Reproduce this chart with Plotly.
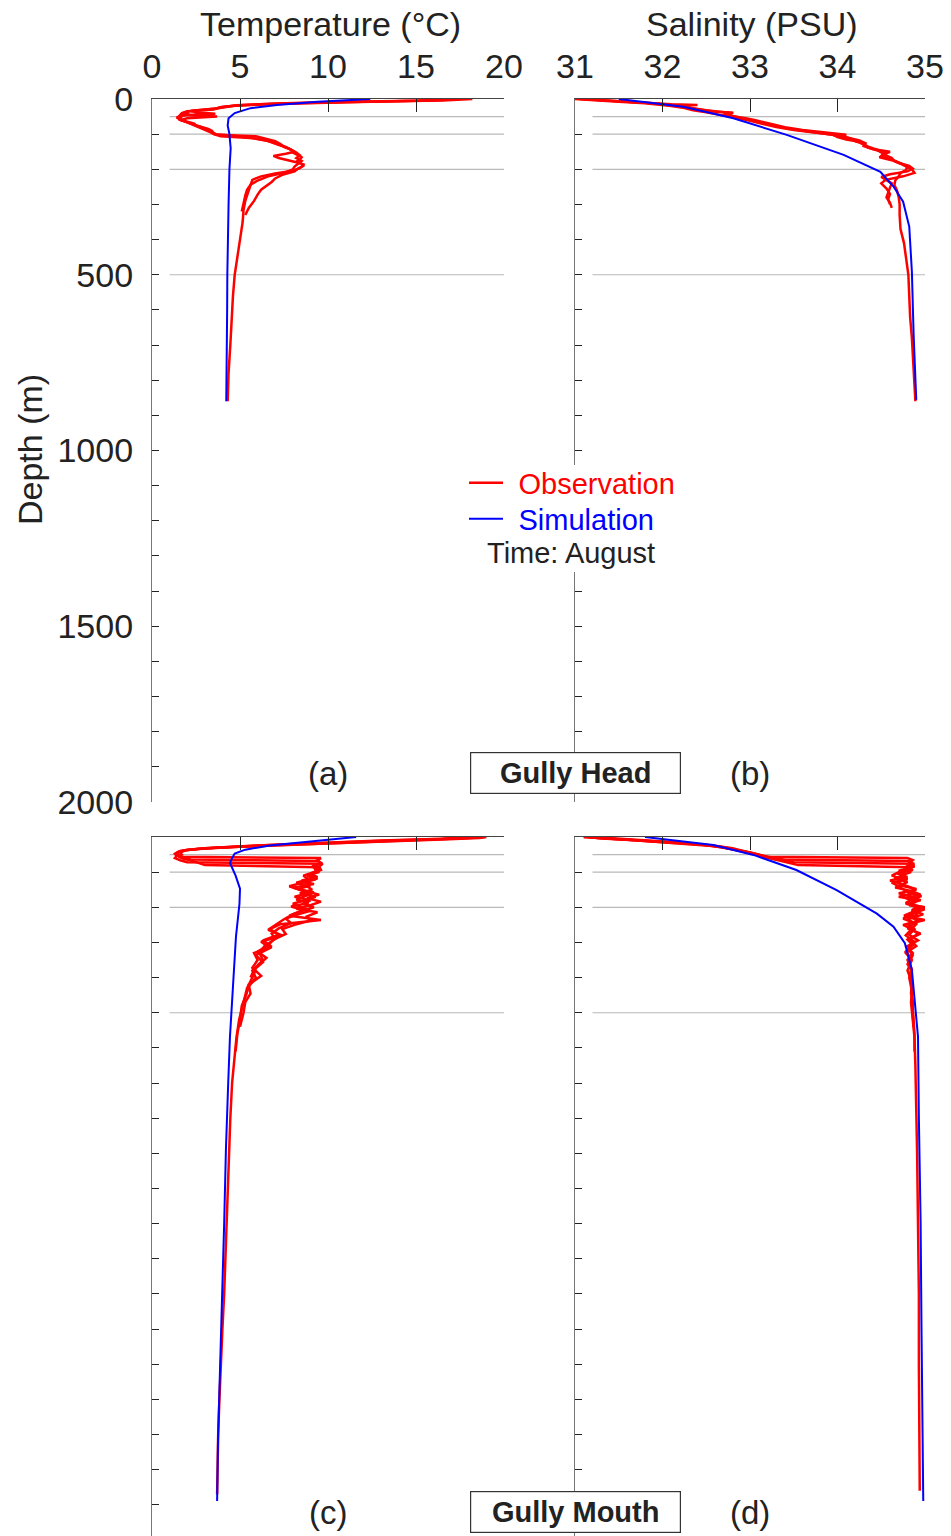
import plotly.graph_objects as go

# ---------------- data: Gully Head (August) ----------------
# temperature casts (depth m, deg C)
head_temp_obs1_depth = [0, 4, 8, 12, 17, 22, 26, 30, 34, 38, 42, 46, 50, 54, 58, 62, 66, 70, 75, 80, 85, 90, 96, 102,
                        106, 112, 120, 128, 136, 144, 152, 160, 166, 172, 178, 184, 190, 197, 204, 212, 220, 230, 245,
                        260, 290, 316, 350, 400, 450, 500, 560, 620, 700, 780, 860]
head_temp_obs1 = [18.2, 16.5, 12.0, 8.0, 5.2, 4.0, 3.7, 3.0, 2.2, 2.5, 3.6, 1.6, 1.5, 1.7, 1.5, 1.8, 2.1, 2.4, 2.5,
                  2.9, 3.2, 3.4, 3.5, 3.7, 5.9, 6.4, 7.0, 7.3, 7.5, 7.9, 8.0, 8.3, 8.5, 8.4, 8.2, 8.5, 8.6, 8.4, 8.0,
                  7.0, 6.2, 5.7, 5.6, 5.5, 5.3, 5.2, 5.15, 5.0, 4.85, 4.7, 4.6, 4.55, 4.45, 4.35, 4.3]
head_temp_obs2_depth = [0, 5, 10, 15, 20, 25, 30, 35, 40, 45, 50, 55, 60, 66, 72, 78, 84, 90, 96, 100, 104, 110, 118,
                        126, 134, 142, 150, 156, 162, 168, 174, 180, 186, 192, 198, 206, 216, 226, 236, 246, 258, 272,
                        290, 310, 330]
head_temp_obs2 = [16.9, 15.0, 10.5, 6.5, 4.5, 3.8, 3.5, 2.0, 1.7, 1.6, 3.7, 2.0, 1.6, 2.0, 2.4, 2.7, 3.0, 3.3, 3.4,
                  3.6, 4.5, 5.6, 6.5, 7.0, 7.4, 7.8, 8.1, 7.6, 6.9, 7.2, 7.8, 8.2, 8.6, 8.5, 8.3, 8.1, 7.4, 7.0, 6.8,
                  6.5, 6.2, 6.0, 5.8, 5.5, 5.3]
head_temp_obs3_depth = [0, 4, 8, 13, 18, 23, 28, 33, 38, 43, 48, 53, 58, 64, 70, 76, 82, 88, 94, 100, 106, 112, 120,
                        128, 136, 144, 152, 160, 168, 176, 184, 192, 200, 210, 220, 232, 244, 258, 275, 295, 320]
head_temp_obs3 = [17.5, 16.0, 11.0, 7.0, 4.8, 4.3, 3.6, 2.4, 1.8, 2.1, 1.7, 1.4, 1.6, 1.9, 2.2, 2.5, 2.8, 3.1, 3.3,
                  3.5, 3.9, 5.8, 6.7, 7.1, 7.6, 7.9, 8.2, 8.4, 8.2, 8.5, 8.3, 8.1, 8.0, 7.5, 6.6, 6.0, 5.6, 5.4, 5.3,
                  5.2, 5.1]
head_temp_sim_depth = [0, 8, 17, 26, 40, 55, 75, 100, 140, 200, 300, 400, 500, 600, 700, 800, 860]
head_temp_sim = [12.4, 9.4, 7.1, 5.6, 4.7, 4.35, 4.3, 4.4, 4.47, 4.4, 4.35, 4.3, 4.28, 4.27, 4.26, 4.24, 4.22]

# salinity casts (depth m, PSU)
head_salt_obs1_depth = [0, 4, 8, 12, 16, 20, 26, 32, 38, 44, 50, 56, 62, 68, 74, 80, 88, 95, 102, 108, 115, 122, 130,
                        138, 146, 154, 162, 170, 178, 186, 194, 202, 210, 220, 232, 245, 260, 280, 300, 330, 370, 410,
                        450, 500, 560, 620, 680, 760, 860]
head_salt_obs1 = [31.0, 31.2, 31.5, 31.8, 32.0, 32.1, 32.25, 32.35, 32.5, 32.65, 32.8, 32.9, 33.0, 33.1, 33.2, 33.3,
                  33.5, 33.7, 33.95, 34.0, 34.1, 34.25, 34.3, 34.35, 34.45, 34.55, 34.5, 34.6, 34.68, 34.75, 34.8,
                  34.78, 34.72, 34.7, 34.66, 34.65, 34.68, 34.7, 34.71, 34.71, 34.72, 34.76, 34.78, 34.81, 34.82,
                  34.83, 34.85, 34.87, 34.89]
head_salt_obs2_depth = [0, 5, 10, 15, 17, 20, 25, 30, 35, 40, 45, 50, 55, 60, 66, 72, 80, 88, 96, 102, 106, 112, 118,
                        126, 134, 142, 150, 158, 166, 174, 182, 190, 198, 206, 214, 222, 230, 240, 252, 265, 280, 295,
                        310]
head_salt_obs2 = [31.05, 31.4, 31.8, 32.1, 32.4, 32.15, 32.3, 32.4, 32.6, 32.8, 32.7, 32.85, 32.95, 33.05, 33.15,
                  33.25, 33.4, 33.6, 33.85, 34.1, 34.05, 34.15, 34.25, 34.32, 34.3, 34.4, 34.6, 34.52, 34.48, 34.62,
                  34.7, 34.82, 34.86, 34.8, 34.6, 34.5, 34.55, 34.62, 34.6, 34.58, 34.56, 34.6, 34.62]
head_salt_obs3_depth = [0, 4, 8, 12, 18, 24, 30, 36, 39, 42, 48, 54, 60, 66, 72, 80, 88, 96, 104, 112, 120, 128, 136,
                        144, 152, 160, 168, 176, 184, 192, 200, 210, 220, 230, 240, 255, 270, 285, 300]
head_salt_obs3 = [31.1, 31.3, 31.6, 31.9, 32.15, 32.3, 32.45, 32.6, 32.81, 32.7, 32.8, 32.9, 33.0, 33.1, 33.2, 33.35,
                  33.55, 33.8, 34.0, 34.15, 34.2, 34.3, 34.35, 34.45, 34.5, 34.55, 34.62, 34.65, 34.72, 34.78, 34.85,
                  34.88, 34.75, 34.55, 34.5, 34.56, 34.6, 34.58, 34.6]
head_salt_sim_depth = [0, 22, 55, 102, 159, 207, 249, 292, 363, 491, 670, 856]
head_salt_sim = [31.5, 32.24, 32.81, 33.42, 34.07, 34.49, 34.64, 34.75, 34.82, 34.85, 34.87, 34.9]

# ---------------- data: Gully Mouth (August) ----------------
mouth_temp_obs1_depth = [0, 3, 8, 14, 20, 28, 34, 40, 46, 52, 58, 64, 68, 74, 82, 90, 100, 110, 120, 130, 140, 150,
                         160, 170, 180, 190, 200, 210, 220, 232, 245, 260, 275, 290, 310, 330, 350, 370, 390, 410, 430,
                         470, 520, 570, 650, 700, 800, 900, 1000, 1100, 1200, 1300, 1400, 1500, 1600, 1700, 1800, 1870]
mouth_temp_obs1 = [18.9, 18.0, 15.5, 12.0, 8.5, 5.0, 2.5, 1.6, 1.4, 1.5, 1.7, 2.2, 9.4, 9.6, 9.3, 9.5, 9.2, 8.6, 8.9,
                   8.2, 8.8, 9.1, 8.4, 9.3, 8.7, 8.0, 8.5, 9.0, 8.3, 7.6, 7.9, 7.2, 6.8, 7.0, 6.4, 6.1, 6.3, 5.9, 5.8,
                   5.6, 5.4, 5.2, 4.95, 4.8, 4.65, 4.55, 4.45, 4.38, 4.33, 4.27, 4.2, 4.1, 4.0, 3.9, 3.83, 3.76, 3.72,
                   3.7]
mouth_temp_obs2_depth = [0, 4, 9, 15, 22, 30, 36, 42, 48, 54, 60, 66, 72, 76, 84, 94, 104, 114, 124, 134, 144, 154,
                         164, 174, 184, 194, 204, 214, 226, 238, 250, 262, 276, 292, 308, 326, 344, 362, 380, 400, 425,
                         450, 480, 520, 560, 610]
mouth_temp_obs2 = [18.5, 17.2, 14.0, 10.5, 7.0, 3.8, 2.0, 1.5, 1.3, 1.4, 1.3, 1.6, 2.0, 9.7, 9.5, 9.6, 9.0, 9.4, 8.5,
                   9.2, 8.0, 8.7, 9.5, 8.8, 9.6, 9.0, 8.2, 9.4, 8.8, 9.0, 8.1, 7.4, 7.6, 6.9, 6.6, 6.0, 6.5, 6.1, 5.7,
                   5.9, 5.5, 5.35, 5.1, 5.0, 4.85, 4.75]
mouth_temp_obs3_depth = [0, 5, 10, 16, 24, 32, 38, 44, 50, 56, 62, 68, 74, 80, 86, 92, 100, 110, 120, 130, 140, 150,
                         160, 170, 180, 190, 200, 212, 224, 236, 248, 262, 278, 294, 312, 330, 350, 372, 395, 420, 445,
                         470, 500, 540]
mouth_temp_obs3 = [17.8, 16.5, 13.0, 9.5, 6.0, 3.0, 1.9, 1.6, 1.7, 1.5, 1.8, 2.3, 2.6, 3.0, 9.5, 9.3, 9.5, 8.8, 9.3,
                   8.6, 7.8, 8.4, 8.9, 8.1, 9.0, 8.6, 9.2, 8.4, 7.8, 9.6, 7.3, 6.7, 7.2, 6.3, 6.8, 5.8, 6.0, 5.7, 6.2,
                   5.5, 5.6, 5.3, 5.2, 5.0]
mouth_temp_obs4_depth = [0, 3, 7, 12, 18, 25, 32, 38, 44, 50, 56, 60, 66, 74, 84, 96, 108, 118, 128, 138, 148, 158,
                         168, 178, 188, 198, 208, 220, 234, 248, 264, 280, 298, 316, 336, 356, 378, 400]
mouth_temp_obs4 = [19.0, 18.6, 16.5, 13.5, 10.0, 6.2, 3.0, 1.8, 1.5, 1.4, 1.6, 9.6, 9.4, 9.6, 9.1, 9.5, 8.9, 9.4, 8.6,
                   9.0, 8.3, 9.2, 8.7, 8.2, 8.9, 7.9, 8.6, 8.0, 7.5, 7.1, 6.6, 7.4, 6.2, 6.7, 5.9, 6.3, 5.8, 5.6]
mouth_temp_sim_depth = [0, 12, 24, 36, 47, 60, 74, 110, 147, 190, 284, 426, 568, 700, 890, 1100, 1317, 1500, 1716,
                        1889]
mouth_temp_sim = [11.6, 9.0, 6.7, 5.3, 4.7, 4.55, 4.43, 4.75, 5.0, 4.97, 4.77, 4.6, 4.43, 4.33, 4.2, 4.1, 3.98, 3.88,
                  3.75, 3.7]

mouth_salt_obs1_depth = [0, 4, 8, 14, 20, 27, 34, 40, 46, 52, 58, 64, 68, 74, 82, 90, 100, 110, 120, 130, 140, 150,
                         160, 170, 180, 190, 200, 210, 220, 232, 245, 260, 275, 290, 310, 330, 350, 380, 420, 470, 520,
                         570, 650, 750, 900, 1100, 1300, 1500, 1700, 1860]
mouth_salt_obs1 = [31.15, 31.3, 31.6, 31.95, 32.3, 32.65, 32.8, 32.9, 33.0, 33.1, 33.2, 33.3, 34.82, 34.85, 34.8,
                   34.84, 34.7, 34.62, 34.75, 34.68, 34.8, 34.9, 34.7, 34.85, 34.95, 34.78, 35.0, 34.85, 34.92, 34.75,
                   34.88, 34.8, 34.95, 34.82, 34.9, 34.78, 34.85, 34.8, 34.86, 34.84, 34.86, 34.88, 34.89, 34.9,
                   34.91, 34.92, 34.93, 34.93, 34.94, 34.94]
mouth_salt_obs2_depth = [0, 5, 10, 16, 22, 30, 36, 42, 48, 54, 60, 66, 72, 76, 84, 94, 104, 114, 124, 134, 144, 154,
                         164, 174, 184, 194, 204, 214, 226, 238, 250, 262, 276, 292, 308, 326, 344, 362, 380, 400, 425,
                         450, 480, 520, 560, 610]
mouth_salt_obs2 = [31.1, 31.4, 31.75, 32.1, 32.45, 32.7, 32.85, 32.95, 33.05, 33.15, 33.3, 33.4, 33.5, 34.88, 34.8,
                   34.86, 34.68, 34.8, 34.6, 34.75, 34.66, 34.85, 34.95, 34.78, 34.9, 34.82, 35.02, 34.9, 34.8, 34.93,
                   34.75, 34.85, 34.92, 34.8, 34.86, 34.78, 34.84, 34.8, 34.85, 34.82, 34.84, 34.85, 34.86, 34.87,
                   34.88, 34.88]
mouth_salt_obs3_depth = [0, 5, 10, 16, 24, 32, 38, 44, 50, 56, 62, 68, 74, 80, 86, 92, 100, 110, 120, 130, 140, 150,
                         160, 170, 180, 190, 200, 212, 224, 236, 248, 262, 278, 294, 312, 330, 350, 372, 395, 420, 445,
                         470, 500, 540]
mouth_salt_obs3 = [31.2, 31.5, 31.8, 32.2, 32.55, 32.75, 32.9, 33.0, 33.1, 33.15, 33.25, 33.35, 33.45, 33.55, 34.85,
                   34.78, 34.84, 34.72, 34.8, 34.62, 34.7, 34.76, 34.88, 34.7, 34.92, 34.8, 34.98, 34.86, 34.76, 35.0,
                   34.8, 34.88, 34.82, 34.92, 34.79, 34.86, 34.8, 34.84, 34.83, 34.85, 34.84, 34.86, 34.86, 34.87]
mouth_salt_obs4_depth = [0, 3, 7, 12, 18, 25, 32, 38, 44, 50, 56, 60, 66, 74, 84, 96, 108, 118, 128, 138, 148, 158,
                         168, 178, 188, 198, 208, 220, 234, 248, 264, 280, 298, 316, 336, 356, 378, 400]
mouth_salt_obs4 = [31.1, 31.25, 31.55, 31.9, 32.3, 32.6, 32.8, 32.9, 33.0, 33.1, 33.2, 34.8, 34.86, 34.82, 34.88,
                   34.7, 34.78, 34.65, 34.8, 34.72, 34.9, 34.8, 34.96, 34.84, 34.78, 34.92, 34.85, 34.98, 34.8, 34.9,
                   34.84, 34.78, 34.88, 34.8, 34.86, 34.82, 34.85, 34.84]
mouth_salt_sim_depth = [0, 23, 51, 94, 151, 218, 255, 302, 378, 483, 568, 800, 1100, 1400, 1700, 1889]
mouth_salt_sim = [31.8, 32.58, 33.04, 33.53, 33.99, 34.45, 34.64, 34.77, 34.85, 34.89, 34.92, 34.93, 34.95, 34.96,
                  34.97, 34.98]

# axis ticks / labels
temp_ticks = [0, 5, 10, 15, 20]
salt_ticks = [31, 32, 33, 34, 35]
grid_depths = [50, 100, 200, 500]
panel_labels = ["(a)", "(b)", "(c)", "(d)"]
site_names = ["Gully Head", "Gully Mouth"]
column_titles = ["Temperature (°C)", "Salinity (PSU)"]

# ---------------- layout geometry (pixels) ----------------
W, H = 951, 1536
FONT = "Liberation Sans"
TXT = "#222222"
RED, BLUE = "#ff0000", "#0000ff"


def px_x(p):
    return p / W


def px_y(p):
    return 1 - p / H


col_px = [(152, 504), (575, 925)]
row_px = [(99, 802), (837, 1536)]
m_per_px = 2000 / (802 - 99)

fig = go.Figure()

panels = [
    # (row, col, observed casts, simulated profile)
    (0, 0, [(head_temp_obs1_depth, head_temp_obs1), (head_temp_obs2_depth, head_temp_obs2),
            (head_temp_obs3_depth, head_temp_obs3)], (head_temp_sim_depth, head_temp_sim)),
    (0, 1, [(head_salt_obs1_depth, head_salt_obs1), (head_salt_obs2_depth, head_salt_obs2),
            (head_salt_obs3_depth, head_salt_obs3)], (head_salt_sim_depth, head_salt_sim)),
    (1, 0, [(mouth_temp_obs1_depth, mouth_temp_obs1), (mouth_temp_obs2_depth, mouth_temp_obs2),
            (mouth_temp_obs3_depth, mouth_temp_obs3), (mouth_temp_obs4_depth, mouth_temp_obs4)],
     (mouth_temp_sim_depth, mouth_temp_sim)),
    (1, 1, [(mouth_salt_obs1_depth, mouth_salt_obs1), (mouth_salt_obs2_depth, mouth_salt_obs2),
            (mouth_salt_obs3_depth, mouth_salt_obs3), (mouth_salt_obs4_depth, mouth_salt_obs4)],
     (mouth_salt_sim_depth, mouth_salt_sim)),
]

GAP = "\u00a0\u200a"  # small gap between legend line and label

shapes = []
first_obs = True
for idx, (r, c, casts, sim) in enumerate(panels):
    n = idx + 1
    xa = "x" if n == 1 else f"x{n}"
    ya = "y" if n == 1 else f"y{n}"
    for dep, val in casts:
        fig.add_trace(go.Scatter(x=val, y=dep, mode="lines", xaxis=xa, yaxis=ya,
                                 line=dict(color=RED, width=2.5),
                                 name=GAP + '<span style="color:#ff0000">Observation</span>',
                                 legendgroup="obs", showlegend=first_obs, legend="legend"))
        first_obs = False
    fig.add_trace(go.Scatter(x=sim[1], y=sim[0], mode="lines", xaxis=xa, yaxis=ya,
                             line=dict(color=BLUE, width=2),
                             name=GAP + '<span style="color:#0000ff">Simulation</span>',
                             legendgroup="sim", showlegend=(n == 1), legend="legend2"))

    x0, x1 = col_px[c]
    y0, y1 = row_px[r]
    depth_max = (y1 - y0) * m_per_px
    is_temp = c == 0
    xaxis = dict(
        domain=[px_x(x0), px_x(x1)], anchor=ya, side="top", automargin=False,
        range=[0, 20] if is_temp else [31, 35],
        tickmode="array", tickvals=temp_ticks if is_temp else salt_ticks,
        showticklabels=(r == 0), ticks="inside", ticklen=13, tickwidth=1.2, tickcolor=TXT,
        showline=True, linecolor="#444444", linewidth=1.2,
        showgrid=False, zeroline=False,
        tickfont=dict(family=FONT, size=34, color=TXT), ticklabelstandoff=6,
    )
    yaxis = dict(
        domain=[px_y(y1), px_y(y0)], anchor=xa, automargin=False,
        range=[depth_max, 0], tick0=0, dtick=500, tickmode="linear",
        showticklabels=(n == 1), ticks="inside", ticklen=7, tickwidth=1.2, tickcolor=TXT,
        minor=dict(ticks="inside", dtick=100, ticklen=7, tickwidth=1.2, tickcolor=TXT),
        showline=True, linecolor="#777777", linewidth=1.2,
        showgrid=False, zeroline=False,
        tickfont=dict(family=FONT, size=34, color=TXT), ticklabelstandoff=11,
    )
    fig.layout["xaxis" if n == 1 else f"xaxis{n}"] = xaxis
    fig.layout["yaxis" if n == 1 else f"yaxis{n}"] = yaxis

    # reference depth lines
    for d in grid_depths:
        shapes.append(dict(type="line", xref=f"{xa} domain", yref=ya, x0=0.05, x1=1, y0=d, y1=d,
                           line=dict(color="#b9b9b9", width=1.2), layer="below"))

# white backing behind the legend block (masks the salinity axis there)
shapes.append(dict(type="rect", xref="paper", yref="paper",
                   x0=px_x(462), x1=px_x(684), y0=px_y(572), y1=px_y(465),
                   fillcolor="white", line=dict(width=0), layer="above"))

annotations = []
for c in range(2):
    x0, x1 = col_px[c]
    annotations.append(dict(text=column_titles[c], xref="paper", yref="paper",
                            x=px_x((x0 + x1) / 2 + 2), y=px_y(24), showarrow=False,
                            xanchor="center", yanchor="middle",
                            font=dict(family=FONT, size=34, color=TXT)))
annotations.append(dict(text="Depth (m)", xref="paper", yref="paper", x=px_x(30), y=px_y(450),
                        showarrow=False, textangle=-90, xanchor="center", yanchor="middle",
                        font=dict(family=FONT, size=34, color=TXT)))
for r in range(2):
    yc = px_y(773 if r == 0 else 1512)
    for c in range(2):
        annotations.append(dict(text=panel_labels[2 * r + c], xref="paper", yref="paper",
                                x=px_x(328 if c == 0 else 750), y=yc, showarrow=False,
                                xanchor="center", yanchor="middle",
                                font=dict(family=FONT, size=33, color=TXT)))
    annotations.append(dict(text=f"<b>{site_names[r]}</b>", xref="paper", yref="paper",
                            x=px_x(575), y=yc, showarrow=False, xanchor="center", yanchor="middle",
                            width=207, height=38, bgcolor="white", bordercolor="#333333",
                            borderwidth=1.2, borderpad=1,
                            font=dict(family=FONT, size=29, color=TXT)))
annotations.append(dict(text="Time: August", xref="paper", yref="paper", x=px_x(571), y=px_y(553),
                        showarrow=False, xanchor="center", yanchor="middle",
                        font=dict(family=FONT, size=29, color=TXT)))

legend_common = dict(xref="paper", yref="paper", xanchor="left", yanchor="middle",
                     bgcolor="rgba(0,0,0,0)", borderwidth=0, itemwidth=34,
                     font=dict(family=FONT, size=29), tracegroupgap=0)

fig.update_layout(
    width=W, height=H, margin=dict(l=0, r=0, t=0, b=0, autoexpand=False),
    paper_bgcolor="white", plot_bgcolor="white",
    shapes=shapes, annotations=annotations,
    legend=dict(x=px_x(464), y=px_y(483), **legend_common),
    legend2=dict(x=px_x(464), y=px_y(519), **legend_common),
    showlegend=True,
)

fig.write_html("out.html")
